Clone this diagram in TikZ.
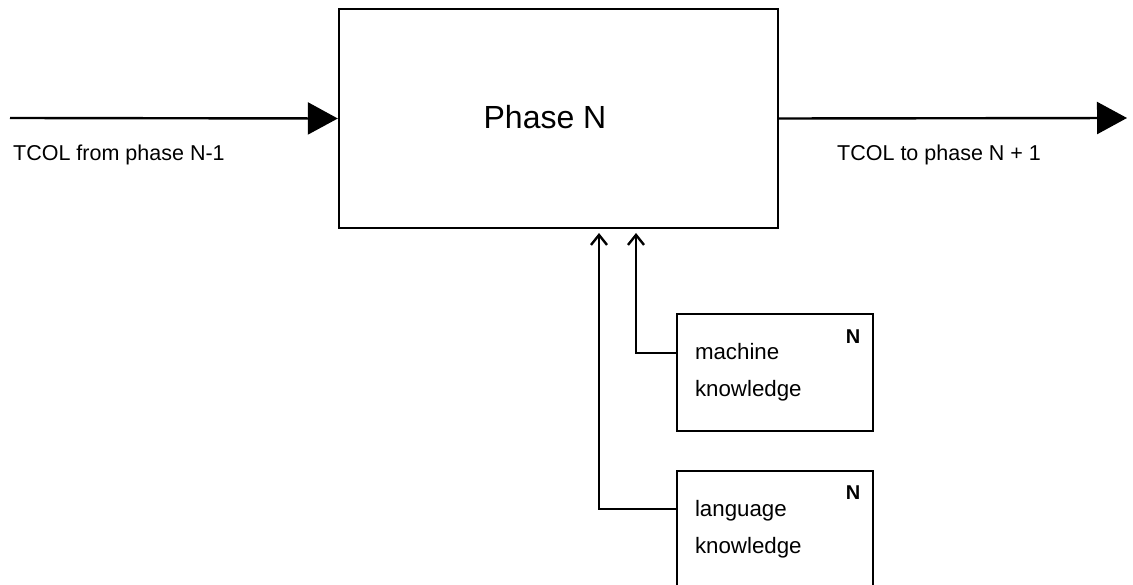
\documentclass[tikz,border=0pt]{standalone}
\usepackage{fontspec}
\setmainfont{Liberation Sans}
\usetikzlibrary{arrows.meta,calc}
\tikzset{
  line/.style={line width=2.4pt},
  boxstyle/.style={draw,line width=2.4pt,inner sep=0pt},
  kbox/.style={draw,line width=2.2pt,minimum width=196pt,minimum height=117pt,
    text width=160pt,inner xsep=18pt,inner ysep=0pt,align=left,
    font=\fontsize{22.3}{37}\selectfont},
  bigarrow/.style={line,-{Triangle[length=30pt,width=32pt]}},
  uparrow/.style={line,-{Straight Barb[length=10pt,width=16pt,line width=2.4pt]}},
  lbl/.style={font=\fontsize{21.5}{24}\selectfont,inner sep=0pt},
}
\begin{document}
\begin{tikzpicture}[x=1pt,y=-1pt]
\useasboundingbox (0,0) rectangle (1133,585);
\begin{scope}
\clip (0,0) rectangle (1133,585);
\node[boxstyle,minimum width=439pt,minimum height=219pt] (phase) at (558.5,118.5) {};
\node[font=\fontsize{32}{38}\selectfont,inner sep=0pt] (phasetext) at (545,117) {Phase N};

\coordinate (in) at (10,118);
\coordinate (out) at (1127,118);
\draw[bigarrow] (in) -- (phase.west);
\draw[bigarrow] (phase.east) -- (out);

\node[lbl,anchor=west] (lin) at (13,155) {TCOL from phase N-1};
\node[lbl,anchor=west] (lout) at (837,155) {TCOL to phase N + 1};

\node[kbox] (mk) at (775,372.5) {machine\\knowledge};
\node[kbox] (lk) at (775,529.5) {language\\knowledge};
\node[lbl,font=\fontsize{20}{22}\selectfont\bfseries] (mkn) at ($(mk.north east)+(-21,24)$) {N};
\node[lbl,font=\fontsize{20}{22}\selectfont\bfseries] (lkn) at ($(lk.north east)+(-21,23)$) {N};

\coordinate (t1) at (599,233);
\coordinate (t2) at (636,233);
\draw[uparrow] ($(mk.west)+(0,-19.5)$) -| (t2);
\draw[uparrow] ($(lk.west)+(0,-20.5)$) -| (t1);
\end{scope}
\end{tikzpicture}
\end{document}
